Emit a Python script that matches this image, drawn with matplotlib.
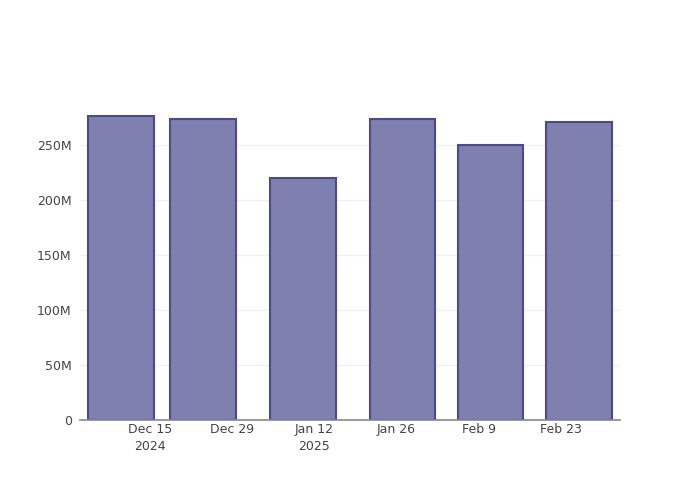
import numpy as np
import pandas as pd
import matplotlib
matplotlib.use("Agg")
import matplotlib.pyplot as plt
import matplotlib.dates as mdates
from matplotlib.ticker import FuncFormatter

dates = pd.to_datetime(["2024-12-10", "2024-12-24", "2025-01-10",
                        "2025-01-27", "2025-02-11", "2025-02-26"])
values = [275.9e6, 273.0e6, 219.8e6, 273.0e6, 249.5e6, 270.7e6]
tick_dates = pd.to_datetime(["2024-12-15", "2024-12-29", "2025-01-12",
                             "2025-01-26", "2025-02-09", "2025-02-23"])
tick_labels = ["Dec 15\n2024", "Dec 29", "Jan 12\n2025", "Jan 26", "Feb 9", "Feb 23"]
y_ticks = [0, 50e6, 100e6, 150e6, 200e6, 250e6]

fig = plt.figure(figsize=(7, 5), dpi=100)
ax = fig.add_axes([80 / 700, 80 / 500, 540 / 700, 320 / 500])

ax.bar(dates, values, width=11.2, color="#7f7fb0", edgecolor="#4b4b8c",
       linewidth=1.5, zorder=3)

ax.set_xlim(pd.Timestamp("2024-12-03 02:00"), pd.Timestamp("2025-03-05 01:00"))
ax.set_ylim(0, 290.5e6)

ax.set_xticks(tick_dates)
ax.set_xticklabels(tick_labels, linespacing=1.4)
ax.set_yticks(y_ticks)
ax.yaxis.set_major_formatter(FuncFormatter(lambda v, p: "0" if v == 0 else f"{int(v / 1e6)}M"))

ax.grid(axis="y", color="#f0f0f0", linewidth=1, zorder=0)
for s in ["top", "right", "left"]:
    ax.spines[s].set_visible(False)
ax.spines["bottom"].set_color("#888888")
ax.spines["bottom"].set_linewidth(1.2)
ax.spines["bottom"].set_zorder(4)

ax.tick_params(axis="both", length=0, labelsize=9, labelcolor="#444444")
ax.tick_params(axis="x", pad=2)
ax.tick_params(axis="y", pad=6)

fig.savefig("out.png", dpi=100)
